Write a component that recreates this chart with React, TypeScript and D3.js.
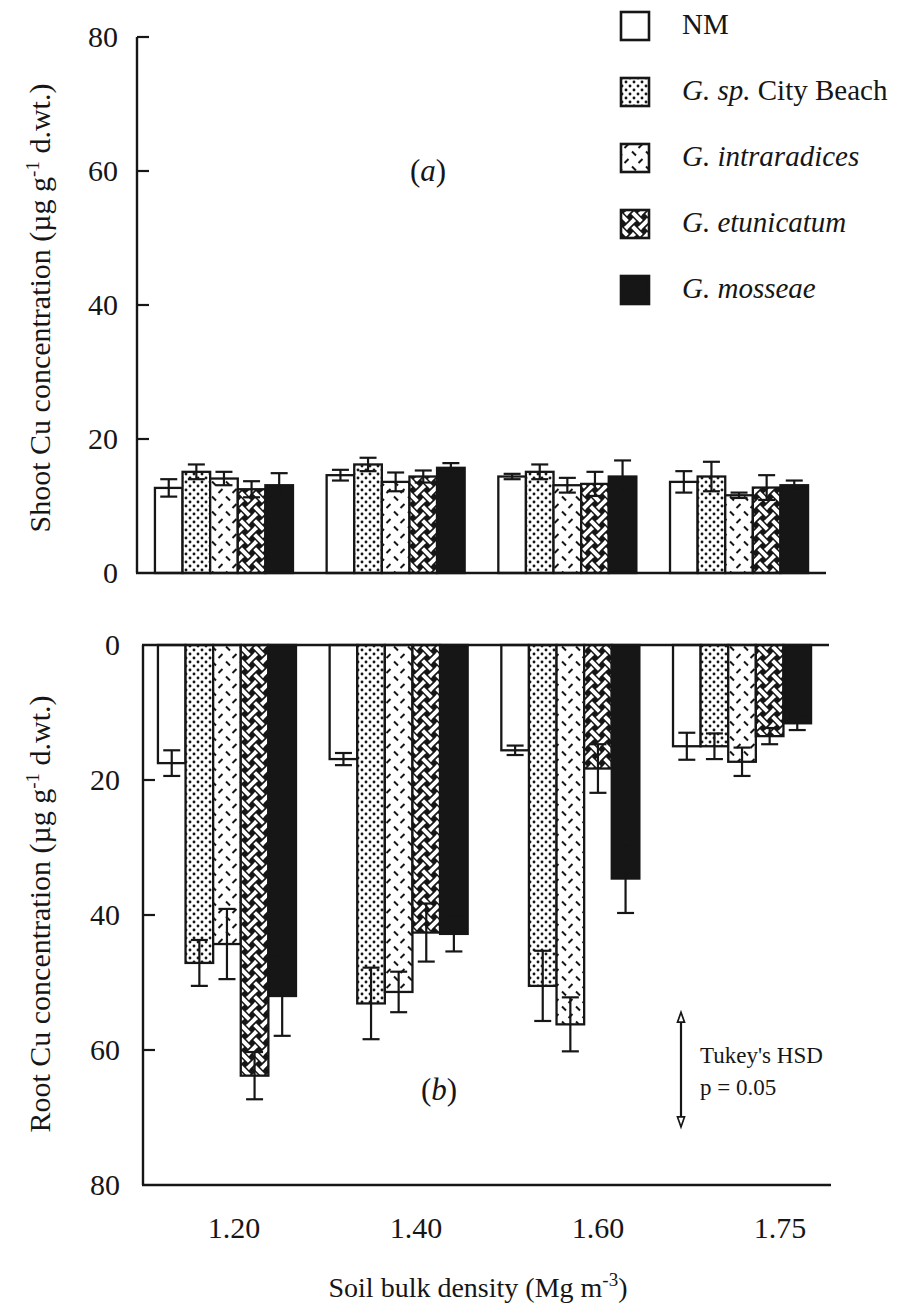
import React from 'react';
import * as d3 from 'd3';

// Soil bulk density classes (Mg m-3)
const densities = ['1.20', '1.40', '1.60', '1.75'];

// Shoot Cu concentration (µg g-1 d.wt.), means and standard errors per treatment
const shootNM = [12.7, 14.6, 14.4, 13.6];
const shootNMErr = [1.3, 0.8, 0.4, 1.6];
const shootCityBeach = [15.1, 16.2, 15.1, 14.4];
const shootCityBeachErr = [1.1, 1.0, 1.1, 2.2];
const shootIntraradices = [14.1, 13.6, 13.1, 11.6];
const shootIntraradicesErr = [1.0, 1.4, 1.1, 0.4];
const shootEtunicatum = [12.5, 14.4, 13.3, 12.75];
const shootEtunicatumErr = [1.2, 0.9, 1.8, 1.85];
const shootMosseae = [13.1, 15.7, 14.4, 13.1];
const shootMosseaeErr = [1.8, 0.7, 2.4, 0.7];

// Root Cu concentration (µg g-1 d.wt.), means and standard errors per treatment
const rootNM = [17.5, 16.9, 15.6, 15.0];
const rootNMErr = [1.9, 0.9, 0.7, 2.0];
const rootCityBeach = [47.1, 53.1, 50.5, 15.0];
const rootCityBeachErr = [3.4, 5.3, 5.2, 1.9];
const rootIntraradices = [44.3, 51.4, 56.2, 17.3];
const rootIntraradicesErr = [5.2, 3.0, 4.0, 2.1];
const rootEtunicatum = [63.8, 42.6, 18.3, 13.5];
const rootEtunicatumErr = [3.5, 4.3, 3.6, 1.2];
const rootMosseae = [52.0, 42.8, 34.6, 11.6];
const rootMosseaeErr = [5.9, 2.6, 5.1, 1.0];

// Tukey's HSD (p = 0.05) bar: start and length in concentration units
const hsdStart = 54.4;
const hsdLength = 17;

const yTicks = [0, 20, 40, 60, 80];

type Series = {
  key: string;
  fill: string;
  shoot: number[];
  shootErr: number[];
  root: number[];
  rootErr: number[];
};

const series: Series[] = [
  { key: 'nm', fill: '#ffffff', shoot: shootNM, shootErr: shootNMErr, root: rootNM, rootErr: rootNMErr },
  { key: 'cb', fill: 'url(#pat-dots)', shoot: shootCityBeach, shootErr: shootCityBeachErr, root: rootCityBeach, rootErr: rootCityBeachErr },
  { key: 'gi', fill: 'url(#pat-dash)', shoot: shootIntraradices, shootErr: shootIntraradicesErr, root: rootIntraradices, rootErr: rootIntraradicesErr },
  { key: 'ge', fill: 'url(#pat-weave)', shoot: shootEtunicatum, shootErr: shootEtunicatumErr, root: rootEtunicatum, rootErr: rootEtunicatumErr },
  { key: 'gm', fill: '#161616', shoot: shootMosseae, shootErr: shootMosseaeErr, root: rootMosseae, rootErr: rootMosseaeErr },
];

const INK = '#161616';
const FONT = '"Liberation Serif", "Times New Roman", "DejaVu Serif", serif';

const W = 916;
const H = 1310;

// Panel geometry
const topAxisX = 137;
const botAxisX = 143;
const axisRight = 826;

const xTop = d3.scaleBand<string>().domain(densities).range([topAxisX, axisRight]).paddingInner(0.196).paddingOuter(0.1045);
const xBot = d3.scaleBand<string>().domain(densities).range([topAxisX + 3, axisRight + 3]).paddingInner(0.196).paddingOuter(0.1045);
const inner = d3.scaleBand<string>().domain(series.map((s) => s.key)).range([0, xTop.bandwidth()]).padding(0);
const xLabel = d3.scalePoint<string>().domain(densities).range([234, 780]);

const yTop = d3.scaleLinear().domain([0, 80]).range([573, 37]);
const yBot = d3.scaleLinear().domain([0, 80]).range([645, 1185]);

const CAP = 17;

function ErrorBar({ x, y1, y2 }: { x: number; y1: number; y2: number }) {
  return (
    <g stroke={INK} strokeWidth={2.2} fill="none">
      <line x1={x} x2={x} y1={y1} y2={y2} />
      <line x1={x - CAP / 2} x2={x + CAP / 2} y1={y1} y2={y1} />
      <line x1={x - CAP / 2} x2={x + CAP / 2} y1={y2} y2={y2} />
    </g>
  );
}

const legendItems = [
  { key: 'nm', fill: '#ffffff', label: [{ t: 'NM', i: false }] },
  { key: 'cb', fill: 'url(#pat-dots)', label: [{ t: 'G. sp.', i: true }, { t: ' City Beach', i: false }] },
  { key: 'gi', fill: 'url(#pat-dash)', label: [{ t: 'G. intraradices', i: true }] },
  { key: 'ge', fill: 'url(#pat-weave)', label: [{ t: 'G. etunicatum', i: true }] },
  { key: 'gm', fill: INK, label: [{ t: 'G. mosseae', i: true }] },
];

export default function App() {
  const bw = inner.bandwidth();
  return (
    <svg
      width={W}
      height={H}
      viewBox={`0 0 ${W} ${H}`}
      style={{ position: 'absolute', left: 0, top: 0, background: '#fff' }}
      fontFamily={FONT}
      fill={INK}
    >
      <defs>
        <pattern id="pat-dots" width={8} height={8} patternUnits="userSpaceOnUse">
          <rect width={8} height={8} fill="#fff" />
          <circle cx={2} cy={2} r={1.45} fill={INK} />
          <circle cx={6} cy={6} r={1.45} fill={INK} />
        </pattern>
        <pattern id="pat-dash" width={14} height={15} patternUnits="userSpaceOnUse">
          <rect width={14} height={15} fill="#fff" />
          <line x1={2} y1={1.5} x2={6} y2={5.5} stroke={INK} strokeWidth={1.9} />
          <line x1={8.5} y1={13} x2={12.5} y2={9} stroke={INK} strokeWidth={1.9} />
        </pattern>
        <pattern id="pat-weave" width={14} height={14} patternUnits="userSpaceOnUse">
          <rect width={14} height={14} fill={INK} />
          {/* strands running "/" */}
          <path d="M-4,18 L18,-4" stroke="#fff" strokeWidth={4} />
          {/* "\" strand passes over at the centre crossing */}
          <path d="M3.5,3.5 L10.5,10.5" stroke={INK} strokeWidth={7.5} />
          <path d="M-4,-4 L18,18" stroke="#fff" strokeWidth={4} />
          {/* "/" strand passes over at the corner crossings */}
          <path d="M-3.5,3.5 L3.5,-3.5 M10.5,17.5 L17.5,10.5 M-3.5,17.5 L3.5,10.5 M10.5,3.5 L17.5,-3.5" stroke={INK} strokeWidth={7.5} />
          <path d="M-4.5,4.5 L4.5,-4.5 M9.5,18.5 L18.5,9.5 M-4.5,18.5 L4.5,9.5 M9.5,4.5 L18.5,-4.5" stroke="#fff" strokeWidth={4} />
        </pattern>
      </defs>

      {/* ---------- Panel (a): shoot ---------- */}
      <g>
        {series.map((s) =>
          densities.map((d, i) => {
            const x0 = (xTop(d) ?? 0) + (inner(s.key) ?? 0);
            const v = s.shoot[i];
            return (
              <rect
                key={`ts-${s.key}-${d}`}
                x={x0}
                y={yTop(v)}
                width={bw}
                height={yTop(0) - yTop(v)}
                fill={s.fill}
                stroke={INK}
                strokeWidth={2.3}
              />
            );
          })
        )}
        {series.map((s) =>
          densities.map((d, i) => {
            const cx = (xTop(d) ?? 0) + (inner(s.key) ?? 0) + bw / 2;
            const v = s.shoot[i];
            const e = s.shootErr[i];
            return <ErrorBar key={`te-${s.key}-${d}`} x={cx} y1={yTop(v + e)} y2={yTop(v - e)} />;
          })
        )}
        {/* axes */}
        <line x1={topAxisX} x2={topAxisX} y1={yTop(80)} y2={yTop(0)} stroke={INK} strokeWidth={2.4} />
        <line x1={topAxisX - 1} x2={axisRight} y1={yTop(0)} y2={yTop(0)} stroke={INK} strokeWidth={2.4} />
        {yTicks.map((t) => (
          <g key={`tt-${t}`}>
            {t > 0 && <line x1={topAxisX} x2={topAxisX + 12} y1={yTop(t)} y2={yTop(t)} stroke={INK} strokeWidth={2.2} />}
            <text x={118} y={yTop(t) + 10} textAnchor="end" fontSize={30}>
              {t}
            </text>
          </g>
        ))}
        <text transform={`translate(50, 308) rotate(-90)`} textAnchor="middle" fontSize={30}>
          Shoot Cu concentration (µg g
          <tspan dy={-11} fontSize={19}>-1</tspan>
          <tspan dy={11}> d.wt.)</tspan>
        </text>
        <text x={428} y={181} textAnchor="middle" fontSize={31}>
          (<tspan fontStyle="italic">a</tspan>)
        </text>
      </g>

      {/* ---------- Panel (b): root ---------- */}
      <g>
        {series.map((s) =>
          densities.map((d, i) => {
            const x0 = (xBot(d) ?? 0) + (inner(s.key) ?? 0);
            const v = s.root[i];
            return (
              <rect
                key={`rs-${s.key}-${d}`}
                x={x0}
                y={yBot(0)}
                width={bw}
                height={yBot(v) - yBot(0)}
                fill={s.fill}
                stroke={INK}
                strokeWidth={2.3}
              />
            );
          })
        )}
        {series.map((s) =>
          densities.map((d, i) => {
            const cx = (xBot(d) ?? 0) + (inner(s.key) ?? 0) + bw / 2;
            const v = s.root[i];
            const e = s.rootErr[i];
            return <ErrorBar key={`re-${s.key}-${d}`} x={cx} y1={yBot(v - e)} y2={yBot(v + e)} />;
          })
        )}
        <line x1={botAxisX} x2={botAxisX} y1={yBot(0)} y2={yBot(80)} stroke={INK} strokeWidth={2.4} />
        <line x1={botAxisX - 1} x2={axisRight + 3} y1={yBot(0)} y2={yBot(0)} stroke={INK} strokeWidth={2.4} />
        <line x1={botAxisX - 1} x2={axisRight + 5} y1={yBot(80)} y2={yBot(80)} stroke={INK} strokeWidth={2.4} />
        {yTicks.map((t) => (
          <g key={`bt-${t}`}>
            {t > 0 && t < 80 && (
              <line x1={botAxisX} x2={botAxisX + 12} y1={yBot(t)} y2={yBot(t)} stroke={INK} strokeWidth={2.2} />
            )}
            <text x={120} y={yBot(t) + 10} textAnchor="end" fontSize={30}>
              {t}
            </text>
          </g>
        ))}
        <text transform={`translate(50, 914) rotate(-90)`} textAnchor="middle" fontSize={30}>
          Root Cu concentration (µg g
          <tspan dy={-11} fontSize={19}>-1</tspan>
          <tspan dy={11}> d.wt.)</tspan>
        </text>
        <text x={439} y={1100} textAnchor="middle" fontSize={31}>
          (<tspan fontStyle="italic">b</tspan>)
        </text>

        {/* Tukey's HSD bar */}
        {(() => {
          const ax = 681;
          const ya = yBot(hsdStart);
          const yb = yBot(hsdStart + hsdLength);
          return (
            <g>
              <line x1={ax} x2={ax} y1={ya + 8} y2={yb - 8} stroke={INK} strokeWidth={2.2} />
              <path d={`M${ax},${ya} L${ax - 3.5},${ya + 10} L${ax + 3.5},${ya + 10} Z`} fill="#fff" stroke={INK} strokeWidth={1.7} />
              <path d={`M${ax},${yb} L${ax - 3.5},${yb - 10} L${ax + 3.5},${yb - 10} Z`} fill="#fff" stroke={INK} strokeWidth={1.7} />
            </g>
          );
        })()}
        <text x={700} y={1063} fontSize={23}>Tukey's HSD</text>
        <text x={700} y={1095} fontSize={23}>p = 0.05</text>
      </g>

      {/* x axis labels */}
      {densities.map((d) => (
        <text key={`xl-${d}`} x={xLabel(d)} y={1238} textAnchor="middle" fontSize={30}>
          {d}
        </text>
      ))}
      <text x={478} y={1297} textAnchor="middle" fontSize={28}>
        Soil bulk density (Mg m
        <tspan dy={-11} fontSize={19}>-3</tspan>
        <tspan dy={11}>)</tspan>
      </text>

      {/* legend */}
      {legendItems.map((it, i) => {
        const y0 = 12 + i * 66;
        return (
          <g key={`lg-${it.key}`}>
            <rect x={621} y={y0} width={28} height={28} fill={it.fill} stroke={INK} strokeWidth={2.6} />
            <text x={682} y={y0 + 22} fontSize={29}>
              {it.label.map((p, j) => (
                <tspan key={j} fontStyle={p.i ? 'italic' : 'normal'}>
                  {p.t}
                </tspan>
              ))}
            </text>
          </g>
        );
      })}
    </svg>
  );
}
